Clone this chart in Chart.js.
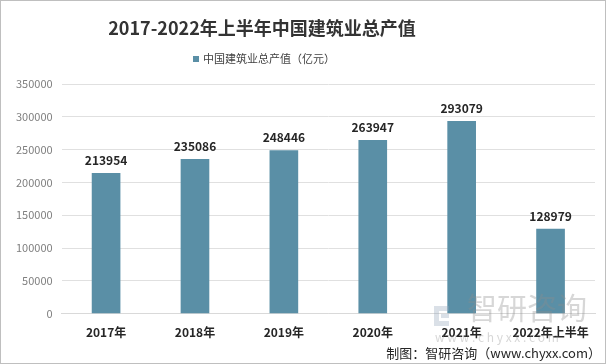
<!DOCTYPE html>
<html>
<head>
<meta charset="utf-8">
<script src="https://cdn.jsdelivr.net/npm/chart.js@4/dist/chart.umd.min.js"></script>
<style>
  html, body { margin: 0; padding: 0; background: #fff; }
  #wrap { position: relative; width: 604px; height: 362px; border: 1px solid #bfbfbf; }
  canvas { display: block; }
</style>
</head>
<body>
<div id="wrap"><canvas id="Chart" width="604" height="362"></canvas></div>
<script>
var categories = ['2017年', '2018年', '2019年', '2020年', '2021年', '2022年上半年'];
var outputValues = [213954, 235086, 248446, 263947, 293079, 128979];
var yTicks = [0, 50000, 100000, 150000, 200000, 250000, 300000, 350000];

var chartTitle = '2017-2022年上半年中国建筑业总产值';
var seriesName = '中国建筑业总产值（亿元）';
var BAR_COLOR = '#5a8fa6';
var FONT = "'Noto Sans CJK SC', 'Microsoft YaHei', sans-serif";

// title + legend, centred a bit left of the canvas centre like the original
var header = {
  id: 'header',
  afterDraw: function (chart) {
    var ctx = chart.ctx;
    var cx = 261;
    ctx.save();
    ctx.fillStyle = '#333333';
    ctx.font = 'bold 18px ' + FONT;
    ctx.textAlign = 'center';
    ctx.textBaseline = 'middle';
    ctx.fillText(chartTitle, cx, 27);

    ctx.font = '11px ' + FONT;
    var w = ctx.measureText(chart.data.datasets[0].label).width;
    var x0 = cx - (w + 10) / 2 + 2;
    ctx.fillStyle = chart.data.datasets[0].backgroundColor;
    ctx.fillRect(x0, 55, 6, 6);
    ctx.fillStyle = '#404040';
    ctx.textAlign = 'left';
    ctx.fillText(chart.data.datasets[0].label, x0 + 10, 58);
    ctx.restore();
  }
};

// data labels above bars
var barLabels = {
  id: 'barLabels',
  afterDatasetsDraw: function (chart) {
    var ctx = chart.ctx;
    var meta = chart.getDatasetMeta(0);
    ctx.save();
    ctx.font = 'bold 12px ' + FONT;
    ctx.fillStyle = '#262626';
    ctx.textAlign = 'center';
    ctx.textBaseline = 'bottom';
    meta.data.forEach(function (bar, i) {
      ctx.fillText(outputValues[i], bar.x, bar.y - 7);
    });
    ctx.restore();
  }
};

// watermark + source note
var footer = {
  id: 'footer',
  afterDraw: function (chart) {
    var ctx = chart.ctx;
    ctx.save();
    ctx.fillStyle = 'rgba(150,165,185,0.35)';
    ctx.fillRect(433, 305, 15, 5);
    ctx.fillRect(433, 310, 5, 10);
    ctx.fillRect(440, 313, 8, 4);
    ctx.fillRect(433, 320, 15, 5);
    ctx.fillStyle = 'rgba(140,140,140,0.35)';
    ctx.font = '30px ' + FONT;
    ctx.textBaseline = 'middle';
    ctx.textAlign = 'left';
    ctx.fillText('智研咨询', 466, 307);
    ctx.font = '12px ' + FONT;
    ctx.fillText('w w w . c h y x x . c o m', 434, 336);
    ctx.fillStyle = '#262626';
    ctx.font = '13px ' + FONT;
    ctx.textAlign = 'right';
    ctx.fillText('制图：智研咨询（www.chyxx.com）', 600, 352);
    ctx.restore();
  }
};

var ctx = document.getElementById('Chart').getContext('2d');
var chart = new Chart(ctx, {
  type: 'bar',
  data: {
    labels: categories,
    datasets: [{
      label: seriesName,
      data: outputValues,
      backgroundColor: BAR_COLOR,
      barThickness: 28
    }]
  },
  options: {
    responsive: false,
    animation: false,
    layout: { padding: { left: 6, right: 10, top: 83, bottom: 19 } },
    plugins: {
      title: { display: false },
      legend: { display: false },
      tooltip: { enabled: false }
    },
    scales: {
      x: {
        grid: { display: false },
        border: { color: '#d9d9d9' },
        ticks: {
          color: '#262626',
          font: { family: FONT, size: 12, weight: 'bold' },
          padding: 4,
          maxRotation: 0,
          minRotation: 0,
          autoSkip: false
        }
      },
      y: {
        min: 0,
        max: 350000,
        afterBuildTicks: function (axis) {
          axis.ticks = yTicks.map(function (v) { return { value: v }; });
        },
        grid: { color: '#e0e0e0', drawTicks: false },
        border: { display: false },
        ticks: {
          color: '#7f7f7f',
          font: { family: FONT, size: 11 },
          padding: 9,
          callback: function (v) { return String(v); }
        }
      }
    }
  },
  plugins: [header, barLabels, footer]
});
</script>
</body>
</html>
